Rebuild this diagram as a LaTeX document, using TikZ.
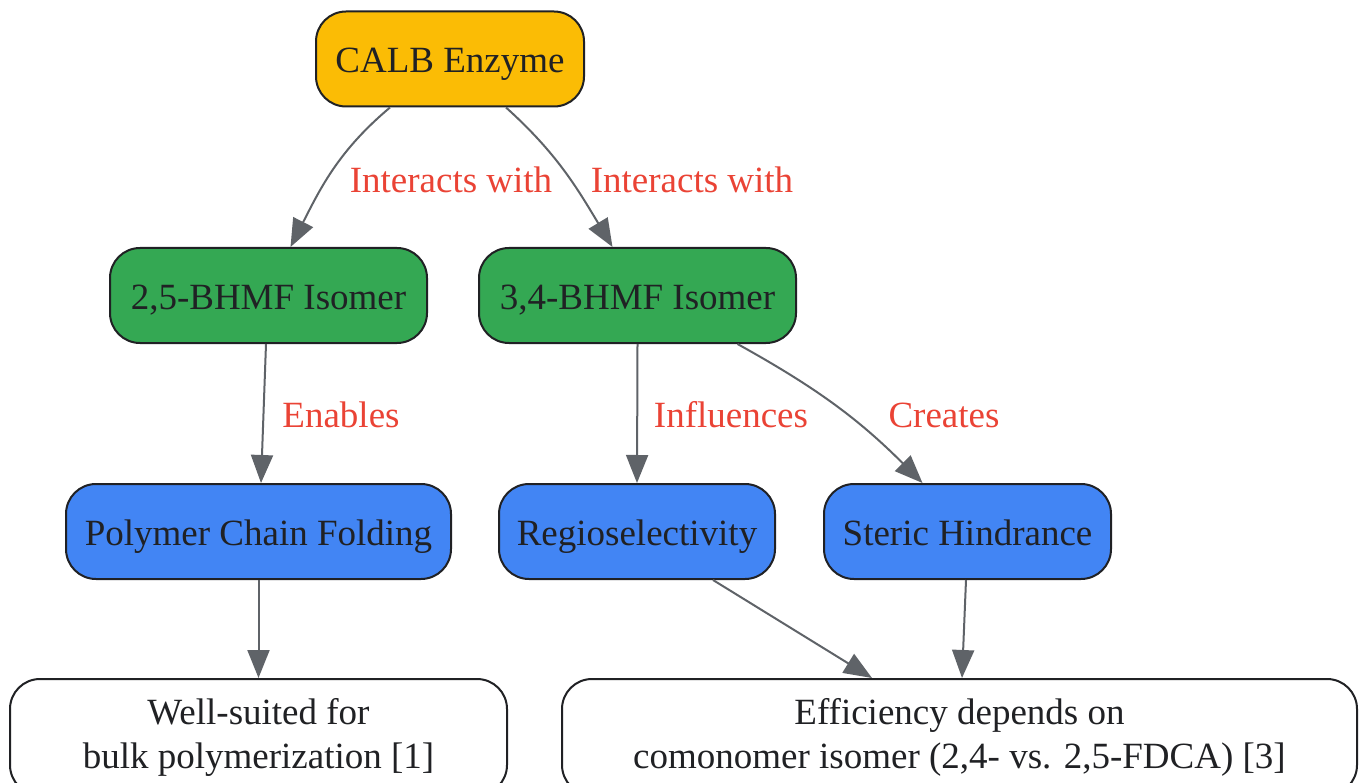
\documentclass[tikz,border=0pt]{standalone}
\usepackage{fontspec}
\setmainfont{Liberation Serif}
\usetikzlibrary{arrows.meta}
\definecolor{enzyme}{HTML}{FBBC05}
\definecolor{isomer}{HTML}{34A853}
\definecolor{effect}{HTML}{4285F4}
\definecolor{edgegray}{HTML}{5F6368}
\definecolor{labelred}{HTML}{EA4335}
\definecolor{ink}{HTML}{202124}
\begin{document}
\begin{tikzpicture}[x=1pt,y=-1pt,
    font=\fontsize{37}{44}\selectfont,
    box/.style={draw=ink,line width=2pt,rounded corners=30pt,text=ink,
      inner sep=0pt,minimum height=95pt,align=center},
    onerow/.style={box,text height=27pt,text depth=0pt},
    edge/.style={draw=edgegray,line width=2pt,
      -{Triangle[length=28pt,width=22pt]}},
    lbl/.style={text=labelred,inner sep=0pt}]
  \useasboundingbox (0,0) rectangle (1359,783);
  % nodes
  \node[onerow,fill=enzyme,minimum width=268pt] (calb) at (450,59) {CALB Enzyme};
  \node[onerow,fill=isomer,minimum width=317pt] (bhmfa) at (268.5,295.5) {2,5-BHMF Isomer};
  \node[onerow,fill=isomer,minimum width=317pt] (bhmfb) at (637.5,295.5) {3,4-BHMF Isomer};
  \node[onerow,fill=effect,minimum width=385pt] (folding) at (258.5,531.5) {Polymer Chain Folding};
  \node[onerow,fill=effect,minimum width=276pt] (regio) at (637,531.5) {Regioselectivity};
  \node[onerow,fill=effect,minimum width=287pt] (steric) at (967.5,531.5) {Steric Hindrance};
  \node[box,fill=white,minimum width=497pt,minimum height=116pt] (bulk) at (258.5,737) {Well-suited for\\bulk polymerization [1]};
  \node[box,fill=white,minimum width=795pt,minimum height=116pt] (effic) at (959.5,737) {Efficiency depends on\\comonomer isomer (2,4- vs. 2,5-FDCA) [3]};
  % edges
  \draw[edge] ([xshift=-60pt]calb.south) to[out=-140,in=63] ([xshift=22pt]bhmfa.north);
  \draw[edge] ([xshift=56pt]calb.south) to[out=-42,in=121] ([xshift=-25pt]bhmfb.north);
  \draw[edge] ([xshift=-2.5pt]bhmfa.south) -- ([xshift=2.5pt]folding.north);
  \draw[edge] (bhmfb.south) -- (regio.north);
  \draw[edge] ([xshift=100pt]bhmfb.south) to[out=-29,in=135] ([xshift=-45pt]steric.north);
  \draw[edge] (folding.south) -- (bulk.north);
  \draw[edge] ([xshift=76pt]regio.south) -- ([xshift=-87.5pt]effic.north);
  \draw[edge] ([xshift=-1.5pt]steric.south) -- ([xshift=2.5pt]effic.north);
  % labels
  \node[lbl] (l1) at (451,180) {Interacts with};
  \node[lbl] (l2) at (692,180) {Interacts with};
  \node[lbl] (l3) at (341,415) {Enables};
  \node[lbl] (l4) at (731,415) {Influences};
  \node[lbl] (l5) at (944,415) {Creates};
\end{tikzpicture}
\end{document}
